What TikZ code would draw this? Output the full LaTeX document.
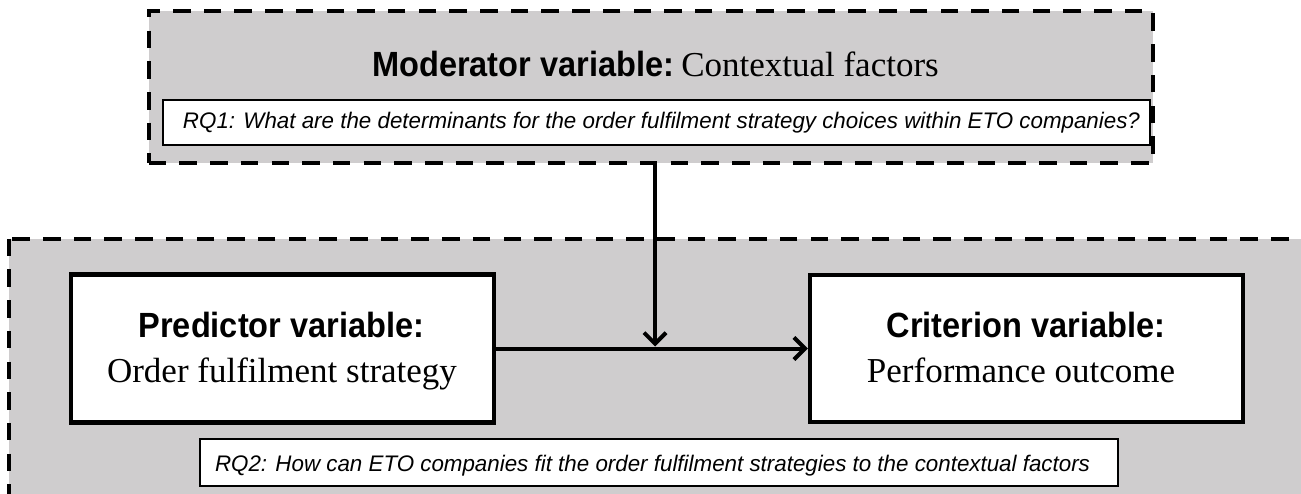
\documentclass[tikz,border=0pt]{standalone}
\usepackage{fontspec}
\usepackage{graphicx}
\setmainfont{Liberation Serif}
\newfontfamily\arialf{Liberation Sans}
\usetikzlibrary{arrows.meta}
\definecolor{panelgray}{RGB}{207,205,206}
\newcommand{\boldtxt}[1]{{\arialf\bfseries\fontsize{35}{40}\selectfont\scalebox{0.93}[1]{#1}}}
\tikzset{
  panel/.style={fill=panelgray, draw=black, line width=4pt, dash pattern=on 17.5pt off 13.2pt},
  varbox/.style={draw=black, fill=white, line width=4.5pt, inner sep=0pt},
  rqbox/.style={draw=black, fill=white, line width=2.2pt, inner sep=0pt},
  lbl/.style={anchor=base, inner sep=0pt},
  seriflbl/.style={anchor=base, inner sep=0pt, font=\rmfamily\fontsize{35}{40}\selectfont},
  rqtext/.style={anchor=base, inner sep=0pt, font=\arialf\itshape\fontsize{22.5}{26}\selectfont},
  conn/.style={line width=4pt, -{Straight Barb[length=11pt,width=22pt,line width=4pt]}}
}
\begin{document}
\begin{tikzpicture}[x=1pt,y=-1pt]
\clip (0,0) rectangle (1301,493);
\fill[white] (0,0) rectangle (1301,493);
% lower panel (extends past the right and bottom edges)
\draw[panel] (9.3,238.7) rectangle (1340,530);
% upper panel
\node[panel, minimum width=1004.3pt, minimum height=151.5pt, inner sep=0pt] (mod) at (650.85,86.75) {};
\node[lbl] (modt) at (655.5,76)
  {\boldtxt{Moderator variable:}\hspace{7pt}{\rmfamily\fontsize{35}{40}\selectfont Contextual factors}};
\node[rqbox, minimum width=987pt, minimum height=45pt] (rq1) at (656.5,122.5) {};
\node[rqtext] (rq1t) at (661.5,128.5) {\resizebox{957pt}{\height}{RQ1: What are the determinants for the order fulfilment strategy choices within ETO companies?}};
% variable boxes
\node[varbox, minimum width=423pt, minimum height=148pt] (pred) at (282.5,348.5) {};
\node[lbl] (predt) at (281.5,337.5) {\boldtxt{Predictor variable:}};
\node[seriflbl] (preds) at (282,382) {Order fulfilment strategy};
\node[varbox, minimum width=433pt, minimum height=147pt] (crit) at (1026.5,348.5) {};
\node[lbl] (critt) at (1026,337.5) {\boldtxt{Criterion variable:}};
\node[seriflbl] (crits) at (1021,382) {Performance outcome};
% RQ2
\node[rqbox, minimum width=918pt, minimum height=47pt] (rq2) at (659,462.5) {};
\node[rqtext] (rq2t) at (652.5,471) {\resizebox{875pt}{\height}{RQ2: How can ETO companies fit the order fulfilment strategies to the contextual factors}};
% connectors
\coordinate (j) at (655,346.5);
\draw[conn] (pred.east) -- (crit.west);
\draw[conn] (mod.south -| j) -- (j);
\end{tikzpicture}
\end{document}
